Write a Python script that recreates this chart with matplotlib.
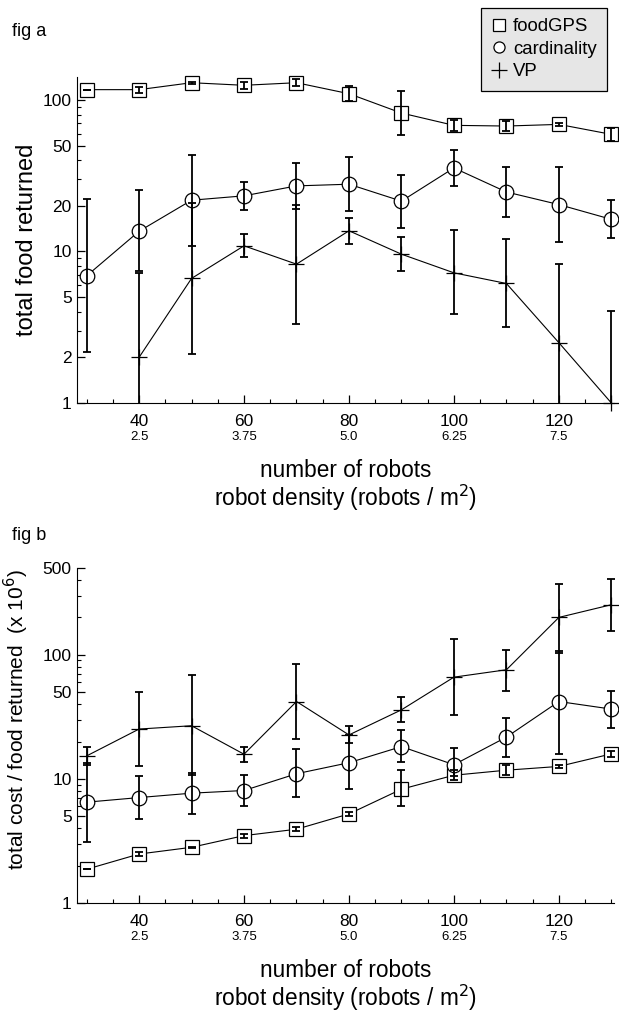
import matplotlib
matplotlib.use("Agg")
import matplotlib.pyplot as plt
from matplotlib.lines import Line2D
from matplotlib.ticker import FixedLocator, NullFormatter
import numpy as np

plt.rcParams["font.family"] = ["Liberation Sans", "DejaVu Sans"]

robots = [30, 40, 50, 60, 70, 80, 90, 100, 110, 120, 130]
tick_robots = [40, 60, 80, 100, 120]
tick_density = ["2.5", "3.75", "5.0", "6.25", "7.5"]

# fig a: total food returned (value, lower, upper)
a_gps = [117, 117, 130, 125, 130, 110, 82, 68, 67.3, 69, 59.3]
a_gps_lo = [117, 112, 128, 119, 123, 99, 58.5, 62.4, 62, 67, 53.6]
a_gps_hi = [117, 122, 132, 131, 137, 123, 114, 74, 73, 71, 65.7]
a_card = [6.9, 13.6, 21.8, 23.3, 27.1, 27.8, 21.5, 35.6, 24.7, 20.4, 16.3]
a_card_lo = [2.16, 7.4, 10.8, 18.9, 19.2, 18.4, 14.2, 26.9, 16.8, 11.6, 12.2]
a_card_hi = [22.1, 25.4, 43.1, 28.8, 38.6, 42, 32.2, 46.5, 36.1, 36.1, 22]
vp_robots = [40, 50, 60, 70, 80, 90, 100, 110, 120, 130]
a_vp = [2.0, 6.64, 10.9, 8.25, 13.7, 9.6, 7.23, 6.15, 2.5, 1.0]
a_vp_lo = [0.5, 2.09, 9.13, 3.32, 11.2, 7.45, 3.84, 3.18, 0.5, 0.5]
a_vp_hi = [7.2, 21, 13.1, 20.4, 16.7, 12.5, 13.8, 12, 8.25, 4.06]

# fig b: total cost / food returned (x 10^6)
b_gps = [1.87, 2.48, 2.81, 3.49, 3.93, 5.22, 8.26, 10.7, 11.75, 12.6, 15.9]
b_gps_lo = [1.87, 2.38, 2.78, 3.35, 3.8, 5.0, 6.09, 9.8, 10.7, 12.2, 15.0]
b_gps_hi = [1.87, 2.58, 2.84, 3.63, 4.06, 5.45, 11.7, 11.8, 12.9, 13.0, 16.8]
b_card = [6.49, 7.07, 7.67, 8.06, 11.0, 13.5, 18.2, 13.0, 21.7, 42, 36.5]
b_card_lo = [3.09, 4.76, 5.19, 6.06, 7.11, 8.3, 13.6, 10.6, 15.1, 15.9, 25.6]
b_card_hi = [13.5, 10.6, 11.1, 10.7, 17.4, 22.6, 24.9, 17.7, 30.9, 108, 51.5]
b_vp = [15.3, 25.2, 26.8, 15.8, 42, 22.6, 36, 66, 75.7, 200, 253]
b_vp_lo = [13.0, 12.6, 10.8, 13.8, 21, 19.4, 28.7, 32.8, 51.5, 104, 154]
b_vp_hi = [18.2, 50.3, 69, 18, 84, 26.9, 45.6, 134, 110, 371, 410]

W, H = 619, 1011
fig = plt.figure(figsize=(W / 100, H / 100), dpi=100)


def panel(rect, ylim, yticks, ylabel, ylabel_size, ylabel_xy, series):
    ax = fig.add_axes(rect)
    ax.set_yscale("log")
    for xs, y, lo, hi, mk, ms in series:
        y = np.array(y); lo = np.array(lo); hi = np.array(hi)
        ax.plot(xs, y, color="k", lw=0.8, zorder=1)
        ax.errorbar(xs, y, yerr=[y - lo, hi - y], fmt="none", ecolor="k",
                    elinewidth=1.3, capsize=3, capthick=1.3, zorder=3)
        if mk == "+":
            ax.plot(xs, y, ls="none", marker="+", ms=ms, mew=0.9, color="k",
                    zorder=4, clip_on=False)
        else:
            ax.plot(xs, y, ls="none", marker=mk, ms=ms, mfc="white", mec="k",
                    mew=0.9, zorder=2, clip_on=False)
    ax.set_xlim(28.1, 130.5)
    ax.set_ylim(*ylim)
    for s in ("top", "right"):
        ax.spines[s].set_visible(False)
    ax.xaxis.set_major_locator(FixedLocator(tick_robots))
    ax.xaxis.set_minor_locator(FixedLocator(list(range(30, 131, 5))))
    ax.yaxis.set_major_locator(FixedLocator(yticks))
    ax.yaxis.set_minor_formatter(NullFormatter())
    ax.set_yticklabels([str(t) for t in yticks])
    ax.tick_params(which="both", direction="in", labelsize=12.5)
    ax.tick_params(which="major", length=6, width=0.9)
    ax.tick_params(which="minor", length=3, width=0.8)
    ax.tick_params(axis="x", pad=8)
    for x, d in zip(tick_robots, tick_density):
        ax.annotate(d, xy=(x, 0), xycoords=("data", "axes fraction"),
                    xytext=(0, -24.5), textcoords="offset points",
                    ha="center", va="center", fontsize=9.5)
    ax.annotate("number of robots", xy=(0.5, 0), xycoords="axes fraction",
                xytext=(0, -53), textcoords="offset points",
                ha="center", va="baseline", fontsize=16.3)
    ax.annotate("robot density (robots / m$^2$)", xy=(0.5, 0), xycoords="axes fraction",
                xytext=(0, -73.8), textcoords="offset points",
                ha="center", va="baseline", fontsize=16.3)
    ax.set_ylabel(ylabel, fontsize=ylabel_size)
    ax.yaxis.set_label_coords(*ylabel_xy)
    return ax


axa = panel([76.6 / W, 1 - 403 / H, (614 - 76.6) / W, 326 / H], (1, 141.8),
            [1, 2, 5, 10, 20, 50, 100], "total food returned", 17, (-0.072, 0.5),
            [(robots, a_gps, a_gps_lo, a_gps_hi, "s", 9.7),
             (robots, a_card, a_card_lo, a_card_hi, "o", 10.5),
             (vp_robots, a_vp, a_vp_lo, a_vp_hi, "+", 12)])
axb = panel([76.6 / W, 1 - 903 / H, (614 - 76.6) / W, 335 / H], (1, 500),
            [1, 5, 10, 50, 100, 500], "total cost / food returned  (x 10$^6$)", 15,
            (-0.085, 0.549),
            [(robots, b_gps, b_gps_lo, b_gps_hi, "s", 9.7),
             (robots, b_card, b_card_lo, b_card_hi, "o", 10.5),
             (robots, b_vp, b_vp_lo, b_vp_hi, "+", 12)])

fig.text(12 / W, 1 - 32 / H, "fig a", fontsize=13, va="center")
fig.text(12 / W, 1 - 535 / H, "fig b", fontsize=13, va="center")

handles = [Line2D([], [], ls="none", marker="s", ms=8, mfc="white", mec="k", mew=0.9),
           Line2D([], [], ls="none", marker="o", ms=8, mfc="white", mec="k", mew=0.9),
           Line2D([], [], ls="none", marker="+", ms=11, color="k", mew=0.9)]
leg = fig.legend(handles, ["foodGPS", "cardinality", "VP"], loc="upper right",
                 bbox_to_anchor=(607 / W, 1 - 8 / H), fontsize=13.4, frameon=True,
                 fancybox=False, facecolor="#e6e6e6", edgecolor="k", framealpha=1,
                 handlelength=0.8, handletextpad=0.35, borderpad=0.55,
                 labelspacing=0.3, borderaxespad=0)
leg.get_frame().set_linewidth(0.9)

fig.savefig("out.png", dpi=100)
